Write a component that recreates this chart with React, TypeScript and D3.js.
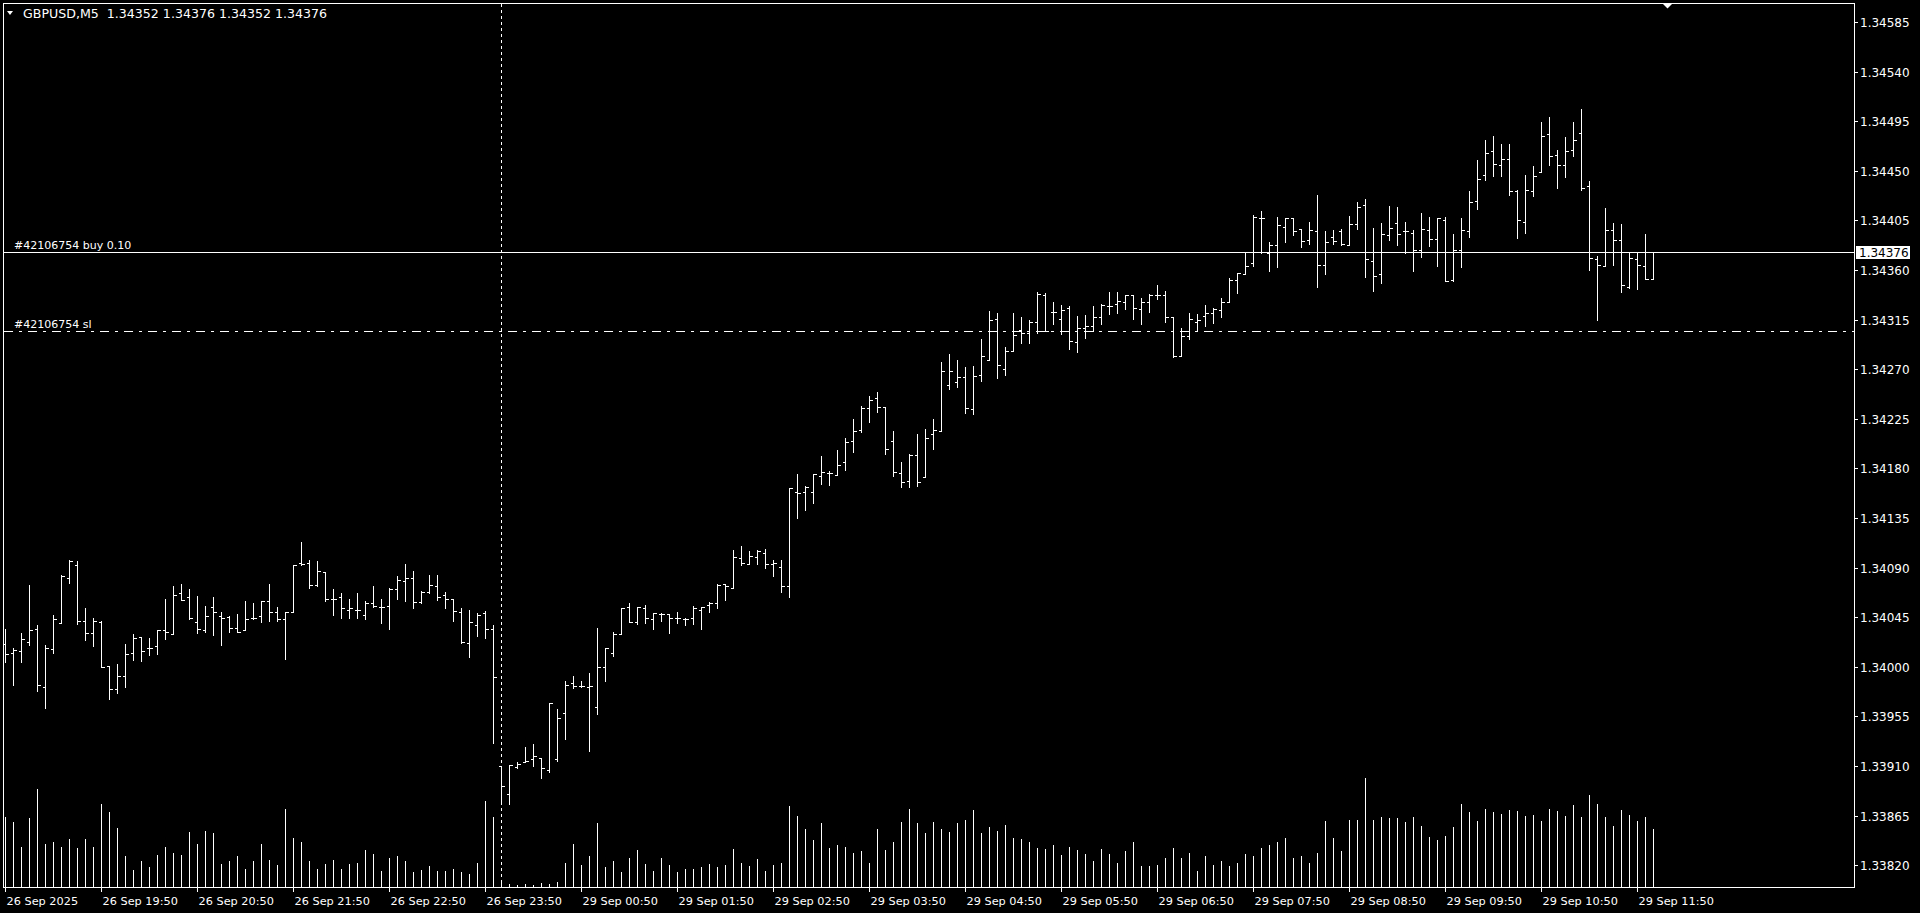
import React from "react";
import * as d3 from "d3";

const chartTitle = "GBPUSD,M5  1.34352 1.34376 1.34352 1.34376";

const opens = [
1.34021,1.34013,1.34014,1.34023,1.34034,1.33982,1.34016,1.34040,1.34081,1.34092,
1.34042,1.34031,1.34041,1.34001,1.33980,1.33992,1.34013,1.34027,1.34017,1.34019,
1.34033,1.34030,1.34067,1.34063,1.34041,1.34033,1.34054,1.34046,1.34045,1.34035,
1.34033,1.34044,1.34046,1.34060,1.34050,1.34043,1.34050,1.34094,1.34094,1.34074,
1.34086,1.34062,1.34063,1.34052,1.34052,1.34047,1.34058,1.34054,1.34055,1.34071,
1.34078,1.34081,1.34059,1.34068,1.34073,1.34065,1.34062,1.34050,1.34022,1.34038,
1.34049,1.34034,1.33910,1.33885,1.33909,1.33914,1.33916,1.33917,1.33906,1.33916,
1.33958,1.33985,1.33983,1.33982,1.33964,1.34000,1.34013,1.34030,1.34054,1.34041,
1.34053,1.34043,1.34048,1.34048,1.34044,1.34043,1.34044,1.34052,1.34056,1.34058,
1.34075,1.34072,1.34099,1.34093,1.34100,1.34103,1.34093,1.34091,1.34073,1.34159,
1.34159,1.34159,1.34173,1.34176,1.34174,1.34186,1.34205,1.34215,1.34235,1.34244,
1.34236,1.34205,1.34176,1.34169,1.34192,1.34172,1.34211,1.34214,1.34256,1.34258,
1.34263,1.34234,1.34265,1.34278,1.34316,1.34270,1.34287,1.34306,1.34303,1.34313,
1.34337,1.34322,1.34316,1.34326,1.34295,1.34307,1.34309,1.34317,1.34327,1.34329,
1.34331,1.34337,1.34325,1.34331,1.34337,1.34337,1.34317,1.34282,1.34300,1.34313,
1.34318,1.34321,1.34324,1.34331,1.34351,1.34356,1.34366,1.34407,1.34375,1.34383,
1.34399,1.34407,1.34397,1.34387,1.34395,1.34365,1.34390,1.34395,1.34383,1.34402,
1.34419,1.34368,1.34356,1.34392,1.34403,1.34395,1.34394,1.34378,1.34396,1.34388,
1.34405,1.34351,1.34378,1.34395,1.34423,1.34446,1.34468,1.34455,1.34461,1.34432,
1.34404,1.34432,1.34449,1.34483,1.34464,1.34455,1.34469,1.34484,1.34436,1.34370,
1.34364,1.34396,1.34387,1.34345,1.34370,1.34364,1.34352];

const highs = [
1.34034,1.34017,1.34031,1.34074,1.34038,1.34020,1.34047,1.34083,1.34097,1.34096,
1.34053,1.34044,1.34042,1.34001,1.34003,1.34021,1.34030,1.34027,1.34026,1.34033,
1.34062,1.34073,1.34075,1.34071,1.34064,1.34055,1.34063,1.34050,1.34046,1.34048,
1.34060,1.34058,1.34060,1.34075,1.34054,1.34050,1.34092,1.34113,1.34097,1.34096,
1.34086,1.34071,1.34067,1.34062,1.34067,1.34060,1.34073,1.34062,1.34072,1.34082,
1.34093,1.34087,1.34069,1.34083,1.34083,1.34068,1.34062,1.34053,1.34052,1.34049,
1.34051,1.34038,1.33910,1.33911,1.33914,1.33927,1.33930,1.33917,1.33967,1.33962,
1.33987,1.33992,1.33987,1.33994,1.34035,1.34017,1.34032,1.34053,1.34058,1.34054,
1.34056,1.34049,1.34049,1.34048,1.34050,1.34044,1.34055,1.34054,1.34059,1.34075,
1.34075,1.34106,1.34110,1.34105,1.34106,1.34107,1.34097,1.34097,1.34162,1.34175,
1.34164,1.34175,1.34191,1.34178,1.34197,1.34208,1.34225,1.34237,1.34246,1.34249,
1.34236,1.34214,1.34186,1.34193,1.34211,1.34216,1.34225,1.34277,1.34284,1.34278,
1.34272,1.34273,1.34297,1.34323,1.34321,1.34290,1.34321,1.34317,1.34315,1.34340,
1.34339,1.34331,1.34328,1.34327,1.34318,1.34319,1.34327,1.34329,1.34340,1.34340,
1.34337,1.34337,1.34335,1.34338,1.34346,1.34341,1.34317,1.34307,1.34321,1.34320,
1.34328,1.34326,1.34335,1.34353,1.34357,1.34376,1.34410,1.34414,1.34385,1.34408,
1.34407,1.34407,1.34397,1.34404,1.34428,1.34395,1.34396,1.34397,1.34409,1.34422,
1.34424,1.34398,1.34403,1.34418,1.34417,1.34404,1.34396,1.34412,1.34408,1.34407,
1.34408,1.34393,1.34407,1.34432,1.34460,1.34478,1.34482,1.34474,1.34474,1.34433,
1.34446,1.34454,1.34494,1.34499,1.34469,1.34481,1.34494,1.34506,1.34441,1.34373,
1.34416,1.34403,1.34402,1.34376,1.34376,1.34393,1.34376];

const lows = [
1.34004,1.33984,1.34004,1.34020,1.33978,1.33963,1.34013,1.34040,1.34076,1.34039,
1.34024,1.34019,1.34000,1.33971,1.33976,1.33982,1.34006,1.34005,1.34011,1.34012,
1.34025,1.34030,1.34061,1.34043,1.34031,1.34032,1.34029,1.34020,1.34032,1.34032,
1.34033,1.34043,1.34041,1.34042,1.34042,1.34007,1.34050,1.34092,1.34072,1.34073,
1.34060,1.34047,1.34044,1.34044,1.34044,1.34043,1.34054,1.34040,1.34034,1.34062,
1.34060,1.34053,1.34058,1.34067,1.34061,1.34053,1.34042,1.34022,1.34009,1.34028,
1.34026,1.33931,1.33877,1.33876,1.33908,1.33914,1.33910,1.33899,1.33905,1.33915,
1.33935,1.33981,1.33982,1.33924,1.33957,1.33987,1.34010,1.34030,1.34041,1.34039,
1.34040,1.34034,1.34042,1.34031,1.34040,1.34038,1.34039,1.34034,1.34050,1.34053,
1.34061,1.34072,1.34092,1.34093,1.34093,1.34090,1.34082,1.34068,1.34063,1.34135,
1.34142,1.34149,1.34166,1.34165,1.34174,1.34179,1.34195,1.34213,1.34222,1.34231,
1.34193,1.34173,1.34163,1.34163,1.34164,1.34172,1.34198,1.34214,1.34252,1.34254,
1.34230,1.34229,1.34259,1.34278,1.34262,1.34265,1.34287,1.34294,1.34294,1.34303,
1.34305,1.34311,1.34302,1.34288,1.34286,1.34298,1.34305,1.34311,1.34320,1.34321,
1.34325,1.34316,1.34311,1.34322,1.34334,1.34313,1.34281,1.34282,1.34297,1.34306,
1.34309,1.34312,1.34317,1.34331,1.34339,1.34356,1.34364,1.34375,1.34359,1.34363,
1.34385,1.34392,1.34381,1.34384,1.34345,1.34356,1.34384,1.34383,1.34383,1.34397,
1.34354,1.34341,1.34348,1.34387,1.34383,1.34375,1.34359,1.34372,1.34382,1.34364,
1.34350,1.34350,1.34363,1.34390,1.34415,1.34442,1.34445,1.34445,1.34428,1.34389,
1.34394,1.34427,1.34449,1.34455,1.34434,1.34444,1.34463,1.34433,1.34360,1.34315,
1.34364,1.34365,1.34340,1.34344,1.34343,1.34352,1.34352];

const closes = [
1.34012,1.34015,1.34025,1.34033,1.33984,1.34017,1.34043,1.34082,1.34096,1.34042,
1.34031,1.34042,1.34000,1.33980,1.33992,1.34012,1.34026,1.34014,1.34017,1.34033,
1.34032,1.34065,1.34061,1.34044,1.34034,1.34046,1.34050,1.34044,1.34035,1.34032,
1.34043,1.34044,1.34060,1.34050,1.34043,1.34050,1.34092,1.34093,1.34074,1.34087,
1.34062,1.34062,1.34053,1.34053,1.34052,1.34058,1.34055,1.34054,1.34071,1.34079,
1.34081,1.34059,1.34068,1.34074,1.34063,1.34062,1.34051,1.34023,1.34041,1.34047,
1.34034,1.33991,1.33892,1.33911,1.33912,1.33915,1.33919,1.33908,1.33967,1.33954,
1.33984,1.33983,1.33983,1.33983,1.34000,1.34017,1.34030,1.34053,1.34041,1.34054,
1.34044,1.34049,1.34048,1.34044,1.34044,1.34043,1.34053,1.34054,1.34058,1.34074,
1.34073,1.34100,1.34094,1.34101,1.34105,1.34093,1.34094,1.34073,1.34162,1.34158,
1.34163,1.34175,1.34177,1.34176,1.34183,1.34204,1.34214,1.34235,1.34242,1.34236,
1.34198,1.34177,1.34168,1.34192,1.34168,1.34208,1.34215,1.34268,1.34268,1.34263,
1.34235,1.34264,1.34282,1.34315,1.34274,1.34287,1.34301,1.34303,1.34313,1.34338,
1.34305,1.34322,1.34324,1.34296,1.34307,1.34309,1.34317,1.34328,1.34327,1.34332,
1.34337,1.34326,1.34331,1.34337,1.34337,1.34317,1.34282,1.34300,1.34316,1.34315,
1.34321,1.34325,1.34331,1.34351,1.34357,1.34364,1.34408,1.34407,1.34383,1.34401,
1.34407,1.34395,1.34386,1.34396,1.34365,1.34385,1.34386,1.34384,1.34402,1.34417,
1.34370,1.34355,1.34393,1.34398,1.34393,1.34395,1.34378,1.34397,1.34388,1.34407,
1.34350,1.34378,1.34396,1.34422,1.34443,1.34466,1.34456,1.34461,1.34432,1.34405,
1.34433,1.34445,1.34482,1.34463,1.34455,1.34468,1.34478,1.34434,1.34371,1.34365,
1.34396,1.34387,1.34346,1.34371,1.34365,1.34352,1.34376];

const volumes = [
285,265,165,280,400,175,185,165,195,160,
195,165,340,305,240,125,70,105,80,130,
165,140,130,225,175,230,220,95,105,125,
75,105,175,110,90,320,200,185,105,75,
95,110,75,95,100,150,135,65,120,125,
105,60,70,85,65,65,75,60,55,100,
350,285,15,12,10,12,10,15,12,20,
100,175,90,125,260,80,105,60,120,150,
95,65,120,90,60,75,75,80,95,80,
90,155,100,85,115,65,90,100,330,290,
235,190,260,160,170,165,140,145,100,235,
150,185,265,320,260,220,265,235,225,260,
275,315,220,245,230,255,200,195,185,160,
155,170,130,165,150,135,105,155,135,100,
145,185,85,85,90,120,160,120,140,65,
125,90,105,85,100,135,125,160,170,185,
200,120,125,100,140,270,200,145,275,275,
445,275,285,280,280,265,285,250,205,190,
210,245,340,305,270,320,305,300,315,310,
290,295,270,320,310,290,335,285,375,340,
285,250,315,295,270,285,235];

const priceTicks = [
1.34585,1.34540,1.34495,1.34450,1.34405,1.34360,1.34315,1.34270,1.34225,
1.34180,1.34135,1.34090,1.34045,1.34000,1.33955,1.33910,1.33865,1.33820];

const timeLabelBars = [0,12,24,36,48,60,72,84,96,108,120,132,144,156,168,180,192,204];
const timeLabels = [
"26 Sep 2025","26 Sep 19:50","26 Sep 20:50","26 Sep 21:50","26 Sep 22:50","26 Sep 23:50",
"29 Sep 00:50","29 Sep 01:50","29 Sep 02:50","29 Sep 03:50","29 Sep 04:50","29 Sep 05:50",
"29 Sep 06:50","29 Sep 07:50","29 Sep 08:50","29 Sep 09:50","29 Sep 10:50","29 Sep 11:50"];

const bidPrice = 1.34376;
const slPrice = 1.34305;
const orderLabel = "#42106754 buy 0.10";
const slLabel = "#42106754 sl";
const separatorBar = 62;

const W = 1920;
const H = 913;
const plotLeft = 3.5;
const plotRight = 1854.5;
const plotTop = 3.5;
const plotBottom = 887.5;
const FONT = "'DejaVu Sans', Verdana, sans-serif";

export default function App() {
  const n = opens.length;
  const x = d3.scaleLinear().domain([0, n - 1]).range([5, 5 + 8 * (n - 1)]);
  const y = d3.scaleLinear().domain([1.3382, 1.34585]).range([865.3, 22]);
  const vy = d3.scaleLinear().domain([0, d3.max(volumes) as number]).range([887, 778]);
  const py = (p: number) => Math.round(y(p)) + 0.5;
  const px = (i: number) => Math.round(x(i)) + 0.5;

  const bars = d3.range(n).map((i) => {
    const cx = px(i);
    return (
      <g key={i}>
        <line x1={cx} x2={cx} y1={py(highs[i]) - 0.5} y2={py(lows[i]) + 0.5} />
        <line x1={cx - 2.5} x2={cx} y1={py(opens[i])} y2={py(opens[i])} />
        <line x1={cx} x2={cx + 3} y1={py(closes[i])} y2={py(closes[i])} />
      </g>
    );
  });

  const vols = volumes.map((v, i) => (
    <line key={i} x1={px(i)} x2={px(i)} y1={Math.round(vy(v))} y2={887} />
  ));

  const sepX = px(separatorBar);
  const bidY = py(bidPrice);
  const slY = py(slPrice);
  const lastX = px(n - 1);

  return (
    <svg
      width={W}
      height={H}
      style={{ position: "fixed", left: 0, top: 0, background: "#000" }}
      fontFamily={FONT}
    >
      <rect x={0} y={0} width={W} height={H} fill="#000" />
      <g stroke="#fff" strokeWidth={1} shapeRendering="crispEdges">
        {vols}
      </g>
      <line x1={sepX} x2={sepX} y1={plotTop} y2={plotBottom} stroke="#fff" strokeDasharray="3,3" shapeRendering="crispEdges" />
      <g stroke="#fff" strokeWidth={1} shapeRendering="crispEdges">
        {bars}
      </g>
      <line x1={plotLeft} x2={plotRight} y1={bidY} y2={bidY} stroke="#fff" shapeRendering="crispEdges" />
      <line x1={plotLeft} x2={plotRight} y1={slY} y2={slY} stroke="#fff" strokeDasharray="9,6,3,6" shapeRendering="crispEdges" />
      <text x={14} y={bidY - 3.5} fill="#fff" fontSize={11}>{orderLabel}</text>
      <text x={14} y={slY - 3.5} fill="#fff" fontSize={11}>{slLabel}</text>

      <rect x={plotLeft} y={plotTop} width={plotRight - plotLeft} height={plotBottom - plotTop} fill="none" stroke="#fff" shapeRendering="crispEdges" />

      <path d="M7,11 L13,11 L10,15 Z" fill="#fff" />
      <text x={23} y={18} fill="#fff" fontSize={12.6} style={{ whiteSpace: "pre" }}>{chartTitle}</text>
      <path d={`M${lastX + 9},${plotTop} L${lastX + 19},${plotTop} L${lastX + 14},${plotTop + 5} Z`} fill="#fff" />

      {priceTicks.map((t) => {
        const ty = py(t);
        return (
          <g key={t}>
            <line x1={plotRight} x2={plotRight + 3} y1={ty} y2={ty} stroke="#fff" shapeRendering="crispEdges" />
            <text x={1860} y={ty} dy="0.36em" fill="#fff" fontSize={12}>{t.toFixed(5)}</text>
          </g>
        );
      })}
      <rect x={1856} y={bidY - 6.5} width={54} height={13} fill="#fff" />
      <text x={1859} y={bidY} dy="0.36em" fill="#000" fontSize={12}>{bidPrice.toFixed(5)}</text>

      {timeLabelBars.map((b, k) => {
        const tx = px(b);
        return (
          <g key={b}>
            <line x1={tx} x2={tx} y1={plotBottom} y2={plotBottom + 4} stroke="#fff" shapeRendering="crispEdges" />
            <text x={tx + 1} y={905} fill="#fff" fontSize={11.3}>{timeLabels[k]}</text>
          </g>
        );
      })}
    </svg>
  );
}
